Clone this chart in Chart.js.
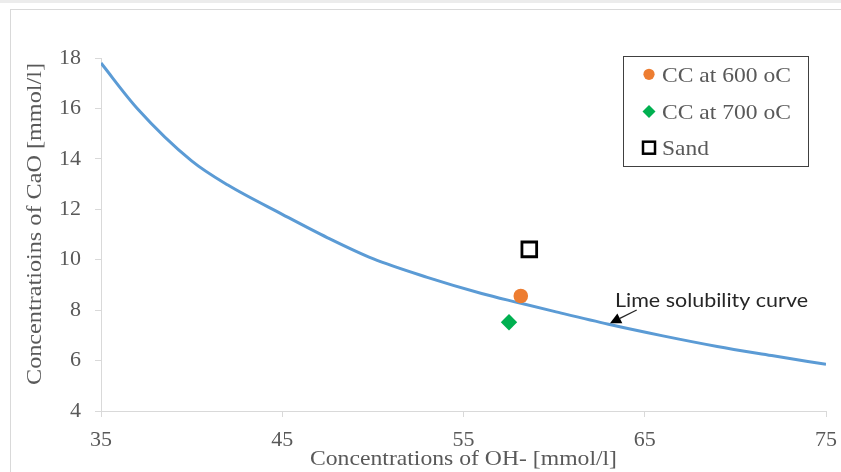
<!DOCTYPE html>
<html><head><meta charset="utf-8">
<script src="https://cdn.jsdelivr.net/npm/chart.js@4"></script>
<style>html,body{margin:0;padding:0;background:#fff;} canvas{display:block;}</style>
</head><body>
<canvas id="c" width="841" height="472"></canvas>
<script>
// ---- data ----
const curveX = [35, 37, 40, 42, 45, 47.5, 50, 53, 56, 58, 60, 63, 66, 69, 72, 75];
const curveY = [17.8, 16.0, 13.92, 12.96, 11.80, 10.87, 10.04, 9.30, 8.66, 8.30, 7.95, 7.44, 6.98, 6.56, 6.20, 5.85];
const cc600X = [58.16], cc600Y = [8.56];
const cc700X = [57.51], cc700Y = [7.52];
const sandX = [58.63], sandY = [10.41];
const legendLabels = ['CC at 600 oC', 'CC at 700 oC', 'Sand'];
const curveLabel = 'Lime solubility curve';
const xTitle = 'Concentrations of OH- [mmol/l]';
const yTitle = 'Concentratioins of CaO [mmol/l]';
const xMin = 35, xMax = 75, xStep = 10;
const yMin = 4, yMax = 18, yStep = 2;

const pts = (xs, ys) => xs.map((x, i) => ({x: x, y: ys[i]}));
const SERIF = '"Liberation Serif", "Times New Roman", serif';
const GRAY = '#595959';

function fitText(ctx, text, x, y, w, font, color, align) {
  ctx.save();
  ctx.font = font; ctx.fillStyle = color; ctx.textBaseline = 'alphabetic'; ctx.textAlign = align;
  const m = ctx.measureText(text).width;
  ctx.translate(x, y); ctx.scale(w / m, 1);
  ctx.fillText(text, 0, 0);
  ctx.restore();
}

const framePlugin = {
  id: 'frame',
  beforeDraw(chart) {
    const c = chart.ctx;
    c.save();
    c.fillStyle = '#fff'; c.fillRect(0, 0, chart.width, chart.height);
    c.fillStyle = '#ececec'; c.fillRect(0, 0, chart.width, 3);
    c.strokeStyle = '#d9d9d9'; c.lineWidth = 1;
    c.strokeRect(10.5, 9.5, chart.width + 10, chart.height + 10);
    c.restore();
  }
};

const overlayPlugin = {
  id: 'overlay',
  afterDraw(chart) {
    const c = chart.ctx;
    const ds = chart.data.datasets;
    fitText(c, xTitle, (chart.chartArea.left + chart.chartArea.right) / 2, 465, 307, '21px ' + SERIF, GRAY, 'center');
    c.save();
    c.translate(41, 224); c.rotate(-Math.PI / 2);
    fitText(c, yTitle, 0, 0, 322, '21px ' + SERIF, GRAY, 'center');
    c.restore();

    c.save();
    c.strokeStyle = '#404040'; c.lineWidth = 1;
    c.strokeRect(623.5, 56.5, 185, 110);
    const rows = [82, 118.5, 155];
    const mk = [74.3, 111.5, 147.7];
    c.fillStyle = ds[1].backgroundColor;
    c.beginPath(); c.arc(649, mk[0], 5.6, 0, Math.PI * 2); c.fill();
    c.fillStyle = ds[2].backgroundColor;
    c.beginPath(); c.moveTo(649, mk[1] - 6.5); c.lineTo(655.5, mk[1]); c.lineTo(649, mk[1] + 6.5); c.lineTo(642.5, mk[1]); c.closePath(); c.fill();
    c.strokeStyle = ds[3].borderColor; c.lineWidth = 2.5; c.fillStyle = '#fff';
    c.fillRect(643, mk[2] - 6, 12, 12); c.strokeRect(643, mk[2] - 6, 12, 12);
    c.restore();
    fitText(c, legendLabels[0], 662, rows[0], 129, '21px ' + SERIF, GRAY, 'left');
    fitText(c, legendLabels[1], 662, rows[1], 129, '21px ' + SERIF, GRAY, 'left');
    fitText(c, legendLabels[2], 662, rows[2], 47, '21px ' + SERIF, GRAY, 'left');

    fitText(c, curveLabel, 615, 306.5, 193, '20px Lato, "Open Sans", sans-serif', '#262626', 'left');
    c.save();
    const tx = 636.7, ty = 310, hx = 610, hy = 323.3;
    const ang = Math.atan2(hy - ty, hx - tx);
    const L = 11, W = 5.5;
    const bx = hx - L * Math.cos(ang), by = hy - L * Math.sin(ang);
    c.strokeStyle = '#262626'; c.lineWidth = 1.3;
    c.beginPath(); c.moveTo(tx, ty); c.lineTo(bx, by); c.stroke();
    c.fillStyle = '#000';
    c.beginPath(); c.moveTo(hx, hy);
    c.lineTo(bx + W * Math.sin(ang), by - W * Math.cos(ang));
    c.lineTo(bx - W * Math.sin(ang), by + W * Math.cos(ang));
    c.closePath(); c.fill();
    c.restore();
  }
};

const axisGrid = {drawOnChartArea: false, drawTicks: true, tickLength: 6, color: '#d9d9d9'};

new Chart(document.getElementById('c').getContext('2d'), {
  type: 'scatter',
  data: {
    datasets: [
      {label: curveLabel, data: pts(curveX, curveY), showLine: true, borderColor: '#5B9BD5', borderWidth: 3,
       pointRadius: 0, cubicInterpolationMode: 'monotone', fill: false, order: 4},
      {label: legendLabels[0], data: pts(cc600X, cc600Y), pointStyle: 'circle', pointRadius: 7.3,
       backgroundColor: '#ED7D31', borderColor: '#ED7D31', borderWidth: 0, order: 1},
      {label: legendLabels[1], data: pts(cc700X, cc700Y), pointStyle: 'rectRot', pointRadius: 8.2,
       backgroundColor: '#00B050', borderColor: '#00B050', borderWidth: 0, order: 2},
      {label: legendLabels[2], data: pts(sandX, sandY), pointStyle: 'rect', pointRadius: 10.4,
       backgroundColor: '#ffffff', borderColor: '#000000', borderWidth: 2.8, order: 3}
    ]
  },
  options: {
    responsive: false, animation: false, devicePixelRatio: 1,
    layout: {padding: {top: 58, right: 15, left: 0, bottom: 0}},
    plugins: {legend: {display: false}, tooltip: {enabled: false}},
    events: [],
    scales: {
      x: {type: 'linear', min: xMin, max: xMax,
          ticks: {stepSize: xStep, color: GRAY, font: {family: SERIF, size: 22}, padding: 10, maxRotation: 0},
          grid: axisGrid, border: {color: '#d9d9d9', width: 1},
          afterFit(s) { s.height = 61; s.paddingLeft = 0; s.paddingRight = 0; }},
      y: {type: 'linear', min: yMin, max: yMax,
          ticks: {stepSize: yStep, color: GRAY, font: {family: SERIF, size: 22}, padding: 14},
          grid: axisGrid, border: {color: '#d9d9d9', width: 1},
          afterFit(s) { s.width = 101; s.paddingTop = 0; s.paddingBottom = 0; }}
    }
  },
  plugins: [framePlugin, overlayPlugin]
});
</script>
</body></html>
